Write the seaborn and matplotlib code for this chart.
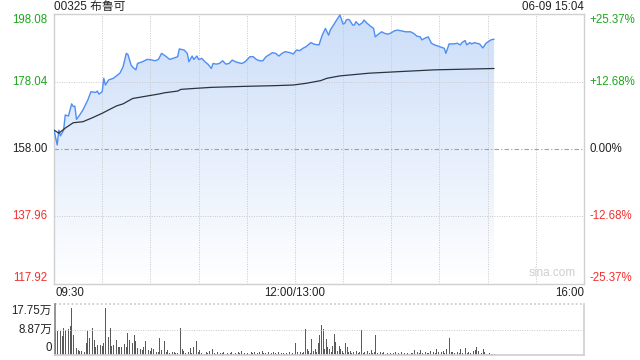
import numpy as np
import matplotlib
matplotlib.use("Agg")
import matplotlib.pyplot as plt
import seaborn as sns
from matplotlib.patches import PathPatch
from matplotlib.transforms import blended_transform_factory

# ---------------- data ----------------
title = "00325 布鲁可"
stamp = "06-09 15:04"
prev_close = 158.00
price_ticks = [117.92, 137.96, 158.00, 178.04, 198.08]
price_tick_labels = ["117.92", "137.96", "158.00", "178.04", "198.08"]
pct_labels = ["-25.37%", "-12.68%", "0.00%", "+12.68%", "+25.37%"]
time_labels = ["09:30", "12:00/13:00", "16:00"]
time_label_pos = [0, 150, 330]          # trading minutes since 09:30
vol_tick_labels = ["0", "8.87万", "17.75万"]
vol_max = 17.75

# price line: trading minute since 09:30 (lunch removed), price
price_min = [0, 2, 3, 4, 6, 7, 9, 11, 12, 13, 14, 16, 18, 21, 23, 26, 27, 28, 30, 31,
             32, 34, 37, 41, 43, 45, 46, 48, 49, 51, 52, 55, 58, 60, 61, 63, 65, 67, 70, 72,
             74, 77, 78, 81, 83, 84, 86, 87, 89, 90, 92, 94, 96, 98, 99, 101, 103, 105, 107, 109,
             111, 113, 115, 117, 119, 120, 122, 124, 126, 128, 130, 132, 136, 138, 140, 142, 144, 147, 149, 151,
             153, 155, 157, 160, 162, 165, 167, 169, 171, 172, 174, 176, 178, 180, 181, 182, 183, 184, 186, 187,
             188, 190, 192, 193, 195, 197, 199, 200, 202, 204, 206, 208, 210, 212, 214, 216, 219, 222, 224, 226,
             228, 229, 231, 233, 235, 237, 240, 243, 244, 246, 249, 251, 253, 254, 256, 257, 259, 260, 262, 263,
             265, 267, 269, 272, 274]
price_val = [163.6, 159.2, 163.6, 161.9, 163.6, 168.1, 167.8, 171.4, 170.6, 170.7, 166.8, 168.1, 169.6, 172.5, 175.0, 174.8, 175.2, 174.3, 175.0, 179.0,
             177.0, 178.5, 179.0, 180.5, 182.4, 186.4, 186.1, 182.9, 182.3, 181.5, 183.4, 183.9, 184.6, 184.5, 184.4, 184.2, 184.6, 186.4, 185.4, 184.6,
             184.9, 185.4, 187.7, 187.4, 186.4, 183.9, 185.6, 184.6, 185.6, 184.6, 184.9, 183.9, 183.1, 181.9, 183.4, 183.2, 183.4, 184.2, 183.2, 183.4,
             184.4, 183.9, 183.6, 183.4, 183.9, 184.4, 185.4, 185.4, 184.6, 184.2, 184.2, 185.4, 186.6, 186.4, 185.6, 186.4, 186.9, 186.6, 186.2, 187.4,
             187.2, 187.9, 188.4, 189.6, 189.1, 188.9, 191.8, 193.8, 191.8, 193.3, 194.8, 196.3, 197.8, 195.1, 195.3, 196.3, 196.5, 196.3, 194.8, 194.8,
             195.8, 194.8, 195.5, 196.3, 195.3, 194.5, 193.8, 191.3, 192.1, 192.8, 192.3, 192.1, 192.5, 193.1, 193.3, 193.1, 192.8, 192.8, 192.3, 191.5,
             191.3, 190.4, 190.9, 191.3, 189.4, 188.9, 188.4, 187.9, 186.4, 189.2, 189.2, 189.4, 188.9, 189.6, 190.2, 188.9, 189.6, 189.2, 189.6, 189.4,
             189.2, 188.0, 189.4, 190.4, 190.6]

# average price line
avg_min = [0, 3, 7, 12, 18, 24, 30, 34, 39, 43, 49, 60, 65, 69, 77, 79, 88, 98, 119, 137,
           149, 157, 166, 170, 178, 196, 216, 237, 274]
avg_val = [163.6, 162.7, 164.2, 165.8, 166.1, 167.3, 168.6, 169.6, 170.8, 171.4, 173.0, 173.9, 174.3, 174.7, 175.2, 175.7, 176.0, 176.3, 176.6, 176.8,
           177.0, 177.5, 178.3, 179.0, 179.7, 180.5, 181.0, 181.5, 181.9]

# volume per minute (万股), minute 0..274
volume = [8.0, 8.2, 7.8, 8.2, 6.7, 9.3, 8.8, 11.7, 9.0, 10.2,
          16.4, 7.0, 6.1, 2.3, 1.8, 1.5, 1.5, 1.4, 1.2, 4.1,
          8.2, 5.8, 3.2, 9.3, 5.3, 2.9, 3.5, 5.3, 3.5, 3.2,
          4.3, 16.4, 9.9, 6.4, 9.3, 3.2, 3.5, 9.3, 5.3, 2.9,
          2.7, 2.9, 4.3, 3.9, 2.9, 7.6, 5.3, 3.2, 4.1, 7.0,
          4.7, 2.3, 1.8, 2.0, 1.8, 2.9, 4.9, 2.7, 1.8, 1.5,
          2.3, 2.0, 1.5, 1.2, 1.0, 5.8, 1.8, 1.2, 4.7, 1.0,
          1.8, 0.8, 0.8, 1.0, 1.2, 0.7, 0.6, 0.8, 9.3, 2.0,
          1.5, 0.8, 1.2, 0.9, 2.3, 0.8, 2.7, 0.9, 4.7, 1.0,
          1.8, 0.6, 1.1, 0.5, 0.9, 0.7, 1.3, 0.6, 2.1, 0.8,
          0.5, 0.9, 0.4, 0.7, 0.6, 1.0, 0.5, 0.8, 0.4, 0.6,
          0.9, 0.5, 0.7, 0.4, 1.2, 0.6, 1.5, 0.5, 0.8, 0.4,
          0.7, 0.5, 0.9, 0.6, 1.1, 0.4, 0.7, 1.0, 0.5, 1.3,
          0.6, 0.8, 0.4, 1.0, 0.5, 0.7, 1.2, 0.6, 0.4, 0.9,
          0.5, 0.8, 0.6, 0.4, 0.7, 0.5, 0.9, 0.4, 0.6, 0.5,
          4.1, 1.0, 0.5, 1.2, 0.6, 0.9, 9.0, 2.1, 1.5, 0.8,
          5.7, 1.5, 2.1, 1.0, 4.1, 6.9, 10.4, 8.9, 2.0, 5.7,
          2.7, 2.1, 1.0, 3.3, 7.4, 4.5, 1.5, 3.3, 2.1, 1.5,
          0.8, 4.1, 2.7, 1.0, 1.5, 0.6, 1.0, 0.5, 1.5, 0.7,
          0.9, 8.6, 0.7, 1.2, 0.5, 1.5, 0.6, 1.8, 0.8, 1.0,
          6.9, 0.8, 0.5, 1.2, 0.6, 0.9, 0.4, 0.7, 0.5, 0.8,
          0.4, 0.6, 1.0, 0.5, 0.7, 0.4, 0.9, 0.5, 0.6, 0.4,
          0.7, 0.5, 0.8, 0.6, 1.8, 0.5, 0.9, 0.6, 1.8, 0.7,
          0.5, 1.2, 0.6, 0.8, 1.5, 0.5, 1.2, 0.7, 2.1, 0.9,
          5.7, 1.0, 1.5, 0.6, 2.1, 0.8, 5.9, 1.0, 1.2, 0.7,
          0.5, 1.0, 0.7, 2.0, 0.6, 1.5, 2.3, 0.8, 1.2, 0.6,
          0.9, 1.5, 1.8, 2.7, 1.5, 3.5, 0.8, 2.1, 1.2, 0.5,
          0.6, 0.6, 0.4, 0.4, 0.3]
vol_min = list(range(len(volume)))

# ---------------- style ----------------
sns.set_theme(style="white")
plt.rcParams['font.family'] = ['Liberation Sans', 'Noto Sans CJK SC', 'DejaVu Sans']
GREEN = "#1ea51e"
RED = "#f03030"
DARK = "#222222"
GRID = "#c8c8c8"
SPINE = "#d0d0d0"

fig = plt.figure(figsize=(6.4, 3.6), dpi=100)
W, H = 640, 360
ax = fig.add_axes([54 / W, 1 - 284 / H, (584 - 54) / W, (284 - 14) / H])
axv = fig.add_axes([55 / W, 1 - 355 / H, (584 - 55) / W, (355 - 304) / H])

ymin, ymax = price_ticks[0], price_ticks[-1]
ax.set_xlim(0, 330)
ax.set_ylim(ymin, ymax)

# gradient fill under price
grad = np.linspace(0, 1, 256).reshape(-1, 1, 1)
top = np.array([0.80, 0.87, 0.975]).reshape(1, 1, 3)
bot = np.array([1.0, 1.0, 1.0]).reshape(1, 1, 3)
img = bot * (1 - grad) + top * grad
im = ax.imshow(img, extent=[0, 330, ymin, ymax], origin='lower', aspect='auto', zorder=1)
poly = ax.fill_between(price_min, price_val, ymin, color='none', linewidth=0)
path = poly.get_paths()[0]
patch = PathPatch(path, transform=ax.transData, facecolor='none', edgecolor='none')
ax.add_patch(patch)
im.set_clip_path(patch)

# grid
for x in range(30, 330, 30):
    ax.axvline(x, color=GRID, lw=0.7, ls=(0, (1, 1.5)), zorder=2)
for y in [137.96, 178.04]:
    ax.axhline(y, color=GRID, lw=0.7, ls=(0, (1, 1.5)), zorder=2)
ax.axhline(prev_close, color="#a0a0a0", lw=0.8, ls=(0, (4, 2, 1, 2)), zorder=2)

sns.lineplot(x=price_min, y=price_val, ax=ax, color="#4f8ef3", linewidth=1.0, zorder=4)
sns.lineplot(x=avg_min, y=avg_val, ax=ax, color="#2b3340", linewidth=0.9, zorder=4)

ax.set_xticks([])
ax.set_yticks([])
ax.set_xlabel("")
ax.set_ylabel("")
for s in ax.spines.values():
    s.set_color(SPINE)
    s.set_linewidth(1.0)

# price labels (left) and percent labels (right)
colors = [RED, RED, DARK, GREEN, GREEN]
label_y = [ymin + 0.6 * 0.297 * 10 / 1.0 * 0.7, 137.96, 158.00, 178.04, ymax - 6 * 0.297]
label_y[0] = ymin + 6 * 0.297
for lab, pct, yy, c in zip(price_tick_labels, pct_labels, label_y, colors):
    ax.text(-0.012, yy, lab, transform=blended_transform_factory(ax.transAxes, ax.transData),
            ha='right', va='center', fontsize=8.3, color=c)
    ax.text(1.01, yy, pct, transform=blended_transform_factory(ax.transAxes, ax.transData),
            ha='left', va='center', fontsize=8.3, color=c)

# time labels
tr = blended_transform_factory(ax.transData, ax.transAxes)
ax.text(time_label_pos[0] + 1, -0.035, time_labels[0], transform=tr, ha='left', va='center', fontsize=8.3, color=DARK)
ax.text(time_label_pos[1], -0.035, time_labels[1], transform=tr, ha='center', va='center', fontsize=8.3, color=DARK)
ax.text(time_label_pos[2], -0.035, time_labels[2], transform=tr, ha='right', va='center', fontsize=8.3, color=DARK)

# title and stamp
fig.text(54 / W, 1 - 7 / H, title, ha='left', va='center', fontsize=8.5, color=DARK)
fig.text(584 / W, 1 - 7 / H, stamp, ha='right', va='center', fontsize=8.3, color=DARK)
ax.text(0.985, 0.02, "sina.com", transform=ax.transAxes, ha='right', va='bottom', fontsize=8.5, color="#cfcfcf")

# volume
axv.bar(vol_min, volume, width=0.55, color="#5a5a5a", linewidth=0, align='center')
axv.set_xlim(-0.5, 330)
axv.set_ylim(0, vol_max)
axv.axhline(vol_max / 2, color=GRID, lw=0.7, ls=(0, (1, 1.5)))
axv.axhline(vol_max, color=GRID, lw=1.2, ls=(0, (1, 1.5)), clip_on=False)
axv.set_xticks([])
axv.set_yticks([])
axv.spines['top'].set_visible(False)
axv.spines['left'].set_color("#888888")
axv.spines['right'].set_color(SPINE)
axv.spines['bottom'].set_color(SPINE)
trv = blended_transform_factory(axv.transAxes, axv.transData)
for lab, yy in zip(vol_tick_labels, [2.4, 8.87, 15.3]):
    axv.text(-0.006, yy, lab, transform=trv, ha='right', va='center', fontsize=8.3, color=DARK)

fig.savefig("out.png", dpi=100)
